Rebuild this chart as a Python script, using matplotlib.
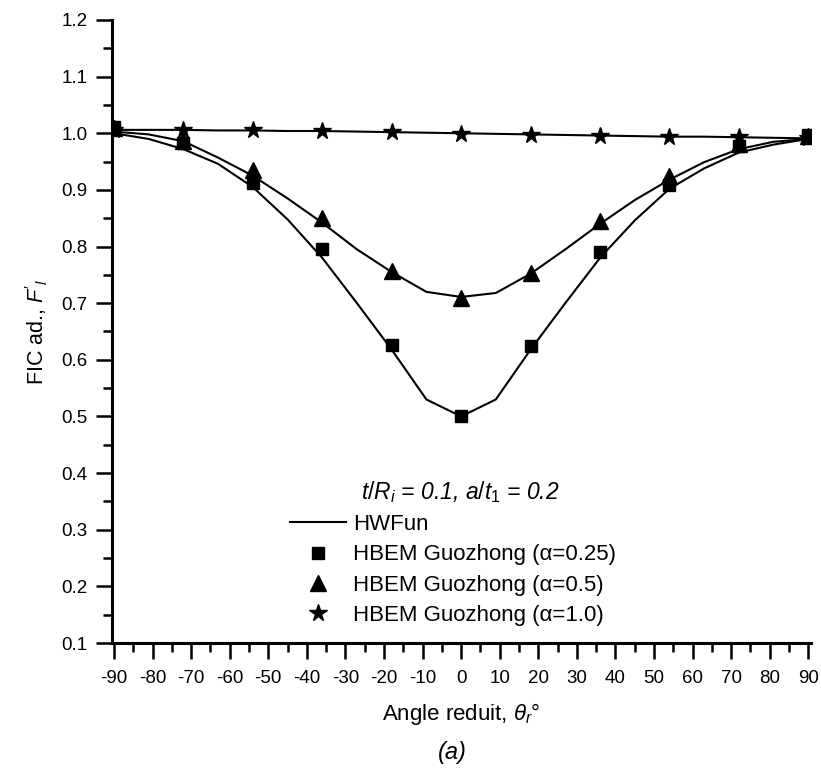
import matplotlib
matplotlib.use("Agg")
import matplotlib.pyplot as plt
from matplotlib.ticker import MultipleLocator, FormatStrFormatter

plt.rcParams['font.family'] = ['Liberation Sans', 'DejaVu Sans']
plt.rcParams['mathtext.fontset'] = 'custom'
plt.rcParams['mathtext.rm'] = 'Liberation Sans'
plt.rcParams['mathtext.it'] = 'Liberation Sans:italic'
plt.rcParams['axes.unicode_minus'] = False

# angles of the HBEM points and of the HWFun curves
theta_pts = [-90, -72, -54, -36, -18, 0, 18, 36, 54, 72, 90]
theta_fun = [-90, -81, -72, -63, -54, -45, -36, -27, -18, -9, 0,
             9, 18, 27, 36, 45, 54, 63, 72, 81, 90]

# HBEM Guozhong
hbem_025 = [1.011, 0.982, 0.913, 0.795, 0.627, 0.500, 0.625, 0.790, 0.908, 0.978, 0.997]
hbem_05 = [1.010, 0.987, 0.935, 0.851, 0.757, 0.709, 0.754, 0.845, 0.924, 0.981, 0.996]
hbem_10 = [1.006, 1.006, 1.005, 1.004, 1.002, 0.999, 0.997, 0.995, 0.994, 0.993, 0.991]

# HWFun
fun_025 = [1.000, 0.990, 0.972, 0.946, 0.905, 0.848, 0.780, 0.700, 0.618, 0.530, 0.500,
           0.530, 0.618, 0.700, 0.780, 0.846, 0.902, 0.938, 0.966, 0.980, 0.990]
fun_05 = [1.003, 0.998, 0.986, 0.957, 0.925, 0.885, 0.842, 0.795, 0.755, 0.720, 0.711,
          0.718, 0.752, 0.795, 0.840, 0.882, 0.918, 0.949, 0.972, 0.985, 0.990]
fun_10 = [1.006, 1.006, 1.006, 1.005, 1.005, 1.004, 1.004, 1.003, 1.002, 1.001, 1.000,
          0.999, 0.998, 0.997, 0.996, 0.995, 0.994, 0.994, 0.993, 0.992, 0.991]

W, H = 821, 774
fig = plt.figure(figsize=(W / 100, H / 100), dpi=100)
ax = fig.add_axes([112 / W, 1 - 643 / H, 699 / W, 623 / H])

l1, = ax.plot(theta_fun, fun_025, color='black', lw=1.5)
ax.plot(theta_fun, fun_05, color='black', lw=1.5)
ax.plot(theta_fun, fun_10, color='black', lw=1.5)

m1, = ax.plot(theta_pts, hbem_025, 's', color='black', ms=9, ls='none')
m2, = ax.plot(theta_pts, hbem_05, '^', color='black', ms=11, ls='none')
m3, = ax.plot(theta_pts, hbem_10, '*', color='black', ms=13, ls='none')

ax.set_xlim(-90.5, 90.7)
ax.set_ylim(0.1, 1.2)
ax.xaxis.set_major_locator(MultipleLocator(10))
ax.xaxis.set_minor_locator(MultipleLocator(5))
ax.yaxis.set_major_locator(MultipleLocator(0.1))
ax.yaxis.set_minor_locator(MultipleLocator(0.05))
ax.yaxis.set_major_formatter(FormatStrFormatter('%.1f'))

for s in ['top', 'right']:
    ax.spines[s].set_visible(False)
for s in ['left', 'bottom']:
    ax.spines[s].set_linewidth(2.2)
ax.tick_params(which='major', direction='out', length=11.5, width=1.8, labelsize=13.5, pad=6)
ax.tick_params(axis='x', which='major', pad=8)
ax.tick_params(which='minor', direction='out', length=6.5, width=1.8)

ax.set_xlabel(r'Angle reduit, $\theta_r$°', fontsize=16, labelpad=10)
ax.set_ylabel(r"FIC ad., $F'_l$", fontsize=15.5, labelpad=8)
fig.text(452 / W, 1 - 752 / H, '(a)', fontsize=17, style='italic', ha='center', va='center')

fig.text(460 / W, 1 - 492 / H, r'$t/R_i$ = 0.1, $a/t_{\mathit{1}}$ = 0.2',
         fontsize=16.5, style='italic', ha='center', va='center')

ax.legend([l1, m1, m2, m3],
          ['HWFun', 'HBEM Guozhong (α=0.25)', 'HBEM Guozhong (α=0.5)', 'HBEM Guozhong (α=1.0)'],
          loc='upper left', bbox_to_anchor=(290 / W, 1 - 514 / H), bbox_transform=fig.transFigure,
          frameon=False, fontsize=16, handlelength=2.5, handletextpad=0.35,
          labelspacing=0.42, borderpad=0, borderaxespad=0)

fig.savefig('out.png', dpi=100)
